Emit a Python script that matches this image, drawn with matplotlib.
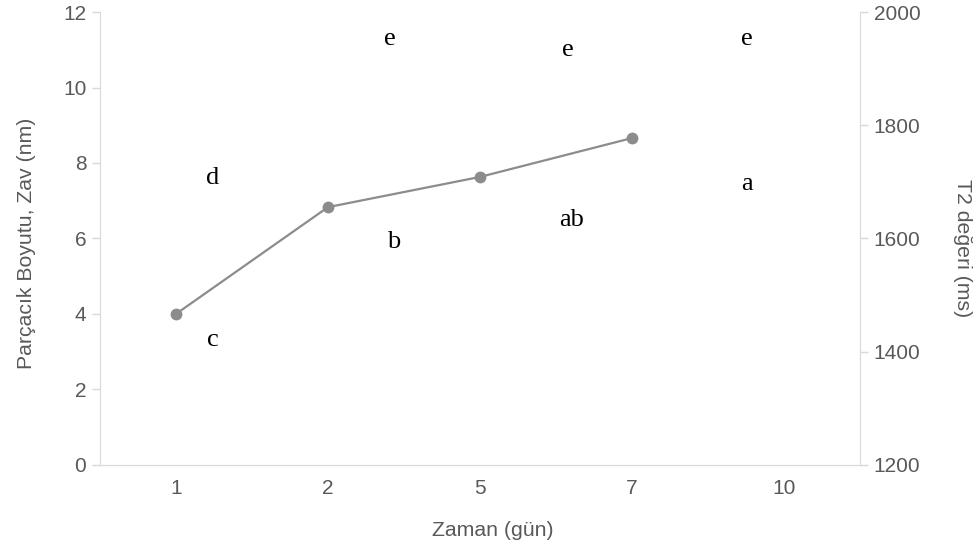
import matplotlib.pyplot as plt

plt.rcParams['font.family'] = ['Liberation Sans', 'DejaVu Sans']

gunler = ['1', '2', '5', '7', '10']
zav = [4.0, 6.83, 7.63, 8.66]

# harf gruplari (x: kategori konumu, y: sol eksen degeri)
harfler = ['d', 'c', 'e', 'b', 'e', 'ab', 'e', 'a']
harf_x = [0.24, 0.24, 1.41, 1.43, 2.58, 2.6, 3.76, 3.76]
harf_y = [7.6, 3.3, 11.3, 5.9, 11.0, 6.5, 11.3, 7.45]

gri = '#595959'
cizgi = '#d9d9d9'

fig, ax = plt.subplots(figsize=(9.77, 5.5), dpi=100)
fig.subplots_adjust(left=0.1025, right=0.88, top=0.978, bottom=0.155)

ax.plot(range(len(zav)), zav, color='#8c8c8c', lw=1.6, marker='o', ms=7.5, zorder=3)
for h, x, y in zip(harfler, harf_x, harf_y):
    ax.text(x, y, h, ha='center', va='center', fontsize=19,
            family='Liberation Serif', color='black')

ax.set_xlim(-0.5, len(gunler) - 0.5)
ax.set_xticks(range(len(gunler)))
ax.set_xticklabels(gunler)
ax.set_ylim(0, 12)
ax.set_yticks(range(0, 13, 2))

ax2 = ax.twinx()
ax2.set_ylim(1200, 2000)
ax2.set_yticks(range(1200, 2001, 200))

for a in (ax, ax2):
    a.spines['top'].set_visible(False)
    for s in ('left', 'right', 'bottom'):
        a.spines[s].set_color(cizgi)
    a.tick_params(axis='y', colors=cizgi, labelcolor=gri, labelsize=15, length=6, width=1, pad=4)
    a.tick_params(axis='x', length=0, labelcolor=gri, labelsize=15, pad=10)
ax2.spines['left'].set_visible(False)
ax.spines['right'].set_visible(False)

ax.set_xlabel('Zaman (gün)', fontsize=15.3, color=gri, labelpad=17)
ax.set_ylabel('Parçacık Boyutu, Zav (nm)', fontsize=15.3, color=gri, labelpad=19)
ax2.set_ylabel('T2 değeri (ms)', fontsize=15.3, color=gri, rotation=270, labelpad=37)
ax.xaxis.label.set_x(0.517)
ax.yaxis.label.set_y(0.49)
ax2.yaxis.label.set_y(0.479)

fig.savefig('out.png', dpi=100)
